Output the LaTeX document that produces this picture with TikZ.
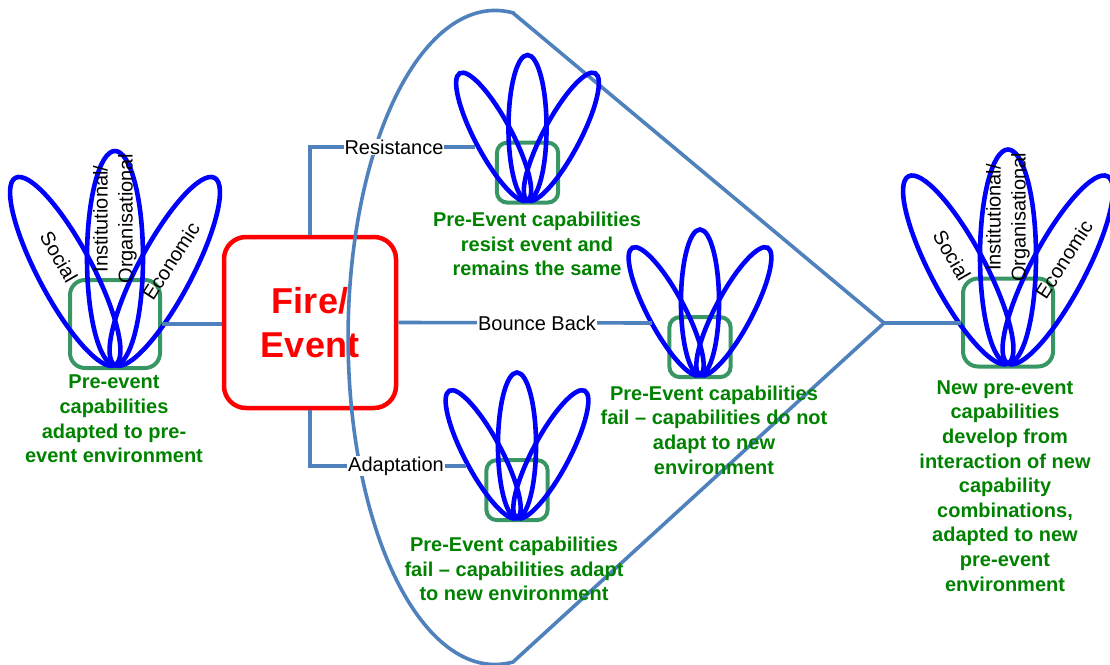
\documentclass[tikz,border=0pt]{standalone}
\usepackage{fontspec}
\setmainfont{Liberation Sans}
\definecolor{linkblue}{RGB}{79,129,189}
\definecolor{petalblue}{RGB}{0,0,255}
\definecolor{boxgreen}{RGB}{56,150,100}
\definecolor{txtgreen}{RGB}{0,130,0}
\tikzset{
  petal/.style={draw=petalblue, line width=4.6pt},
  capbox/.style={draw=boxgreen, line width=4pt, inner sep=0pt},
  link/.style={draw=linkblue, line width=3.6pt},
  firebox/.style={draw=red, line width=4.5pt, rounded corners=22pt,
    minimum width=172pt, minimum height=171pt, text=red, align=center,
    font=\fontsize{36}{44}\selectfont\bfseries},
  gtext/.style={text=txtgreen, align=center, inner sep=0pt,
    font=\fontsize{20}{24.6}\selectfont\bfseries},
  plabel/.style={inner sep=0pt, align=center, font=\fontsize{20}{25}\selectfont},
  linklabel/.style={fill=white, inner sep=1pt, font=\fontsize{20}{24}\selectfont},
}
% capability cluster: #1 name of the frame node, (#2,#3) base of the petals, #4 scale
\newcommand\lotus[4]{%
  \node[capbox, minimum width=#4*90pt, minimum height=#4*88pt,
        rounded corners=#4*15pt] (#1) at (#2,#3-#4*41) {};
  \begin{scope}[shift={(#2,#3)}, scale=#4]
    \draw[petal, rotate=28]  (0,-106) ellipse [x radius=27, y radius=106];
    \draw[petal, rotate=-28] (0,-106) ellipse [x radius=27, y radius=106];
    \draw[petal] (0,-107) ellipse [x radius=28, y radius=107];
  \end{scope}}
% petal names of a full-size cluster: #1 prefix, (#2,#3) base of the petals
\newcommand\lotuslabels[3]{%
  \node[plabel, rotate=-60] (#1soc) at (#2-56,#3-108) {Social};
  \node[plabel, rotate=90] (#1inst) at (#2,#3-146) {Institutional/\\Organisational};
  \node[plabel, rotate=57] (#1eco) at (#2+56,#3-104) {Economic};}

\begin{document}
\begin{tikzpicture}[x=1pt, y=-1pt]
  \useasboundingbox (0,0) rectangle (1110,664);

  % central event
  \node[firebox] (fire) at (310,322.5) {Fire/\\Event};

  % outcome envelope
  \coordinate (tip) at (884,323);
  \draw[link, line join=miter] (513,13) -- (tip) -- (513,662)
    arc[start angle=83, end angle=277, x radius=147, y radius=327] -- cycle;

  % end points of the pathway links
  \coordinate (rin) at (475,147);
  \coordinate (bin) at (652,323);
  \coordinate (ain) at (466,466);

  % capability clusters
  \lotus{L}{115}{365}{1}
  \lotuslabels{l}{115}{365}
  \lotus{Rs}{527.5}{200.5}{0.68}
  \lotus{Bb}{700}{375}{0.68}
  \lotus{Ad}{517}{518}{0.68}
  \lotus{N}{1008}{363.5}{1}
  \lotuslabels{n}{1008}{363.5}

  % links
  \draw[link] (L.east) -- (L.east -| fire.west);
  \draw[link] (fire.north) |- (rin);
  \draw[link] (fire.east) -- (bin);
  \draw[link] (fire.south) |- (ain);
  \draw[link] (tip) -- (tip -| N.west);

  \node[linklabel] (res) at (394,147) {Resistance};
  \node[linklabel] (bb) at (537,323) {Bounce Back};
  \node[linklabel] (ada) at (396,466) {Adaptation};

  % descriptions
  \node[gtext] (lt) at (114,419) {Pre-event\\capabilities\\adapted to pre-\\event environment};
  \node[gtext] (rt) at (537,244) {Pre-Event capabilities\\resist event and\\remains the same};
  \node[gtext] (bt) at (714,430) {Pre-Event capabilities\\fail -- capabilities do not\\adapt to new\\environment};
  \node[gtext] (at) at (514,569) {Pre-Event capabilities\\fail -- capabilities adapt\\to new environment};
  \node[gtext] (nt) at (1005,486) {New pre-event\\capabilities\\develop from\\interaction of new\\capability\\combinations,\\adapted to new\\pre-event\\environment};
\end{tikzpicture}
\end{document}
